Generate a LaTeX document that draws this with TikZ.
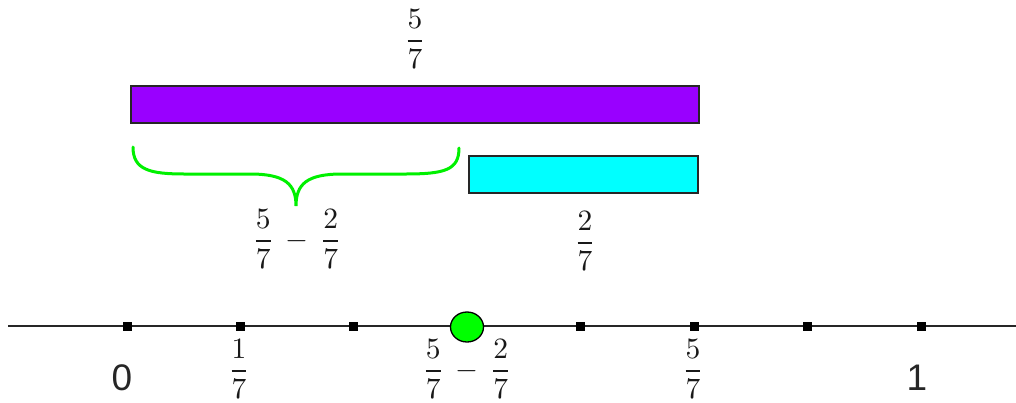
\documentclass[tikz,border=0pt]{standalone}
\usepackage{fontspec}
\usepackage{amsmath}
\usepackage{graphicx}
\usetikzlibrary{shapes.geometric}
\newfontfamily\labsans{Liberation Sans}
\newcommand{\bigfr}[1]{\scalebox{2.95}{$\displaystyle #1$}}
\definecolor{barpurple}{RGB}{153,0,255}
\definecolor{barcyan}{RGB}{0,255,255}
\definecolor{bracegreen}{RGB}{0,240,0}
\definecolor{dotgreen}{RGB}{0,255,0}
\begin{document}
\begin{tikzpicture}[x=1pt,y=-1pt,
  tickmark/.style={fill=black,inner sep=0pt,minimum size=9pt,outer sep=0pt},
  fraclab/.style={inner sep=0pt,text=black!90},
  sanslab/.style={inner sep=0pt,font=\labsans\fontsize{37}{40}\selectfont,text=black!85},
  bar/.style={draw=black!85,line width=1.2pt,inner sep=0pt,outer sep=0pt,anchor=north west}]
\useasboundingbox (0,0) rectangle (1016,402);
% number line
\coordinate (lstart) at (8,326);
\coordinate (lend) at (1016,326);
\draw[line width=1.6pt,black!85] (lstart) -- (lend);
\foreach \k in {0,1,2,4,5,6,7}{
  \node[tickmark] (t\k) at ({127+\k*113.43},326) {};
}
\node[draw=black,line width=1.3pt,fill=dotgreen,ellipse,minimum width=33pt,minimum height=30pt,inner sep=0pt] (t3) at (467,327) {};
% bars
\node[bar,fill=barpurple,minimum width=568pt,minimum height=37pt] (p) at (131,86) {};
\node[bar,fill=barcyan,minimum width=229pt,minimum height=37pt] (c) at (469,156) {};
% brace
\coordinate (bl) at (133,147);
\coordinate (btip) at (296,206);
\coordinate (br) at (459,148);
\draw[bracegreen,line width=3pt,line cap=round]
  (bl) .. controls (133,170) and (150,174) .. (185,174) -- (250,174)
       .. controls (285,174) and (296,184) .. (btip)
       .. controls (296,184) and (307,174) .. (342,174) -- (405,174)
       .. controls (445,174) and (459,170) .. (br);
% labels above
\node[fraclab] (lp) at (415,39) {\bigfr{\frac{5}{7}}};
\node[fraclab] (lb) at (297,239) {\bigfr{\frac{5}{7}\,-\,\frac{2}{7}}};
\node[fraclab] (lc) at (585,241) {\bigfr{\frac{2}{7}}};
% labels below the line
\node[sanslab] (n0) at (122,378) {0};
\node[fraclab] (n1) at (239,369) {\bigfr{\frac{1}{7}}};
\node[fraclab] (n3) at (467,369) {\bigfr{\frac{5}{7}\,-\,\frac{2}{7}}};
\node[fraclab] (n5) at (693,369) {\bigfr{\frac{5}{7}}};
\node[sanslab] (n7) at (917,378) {1};
\end{tikzpicture}
\end{document}
